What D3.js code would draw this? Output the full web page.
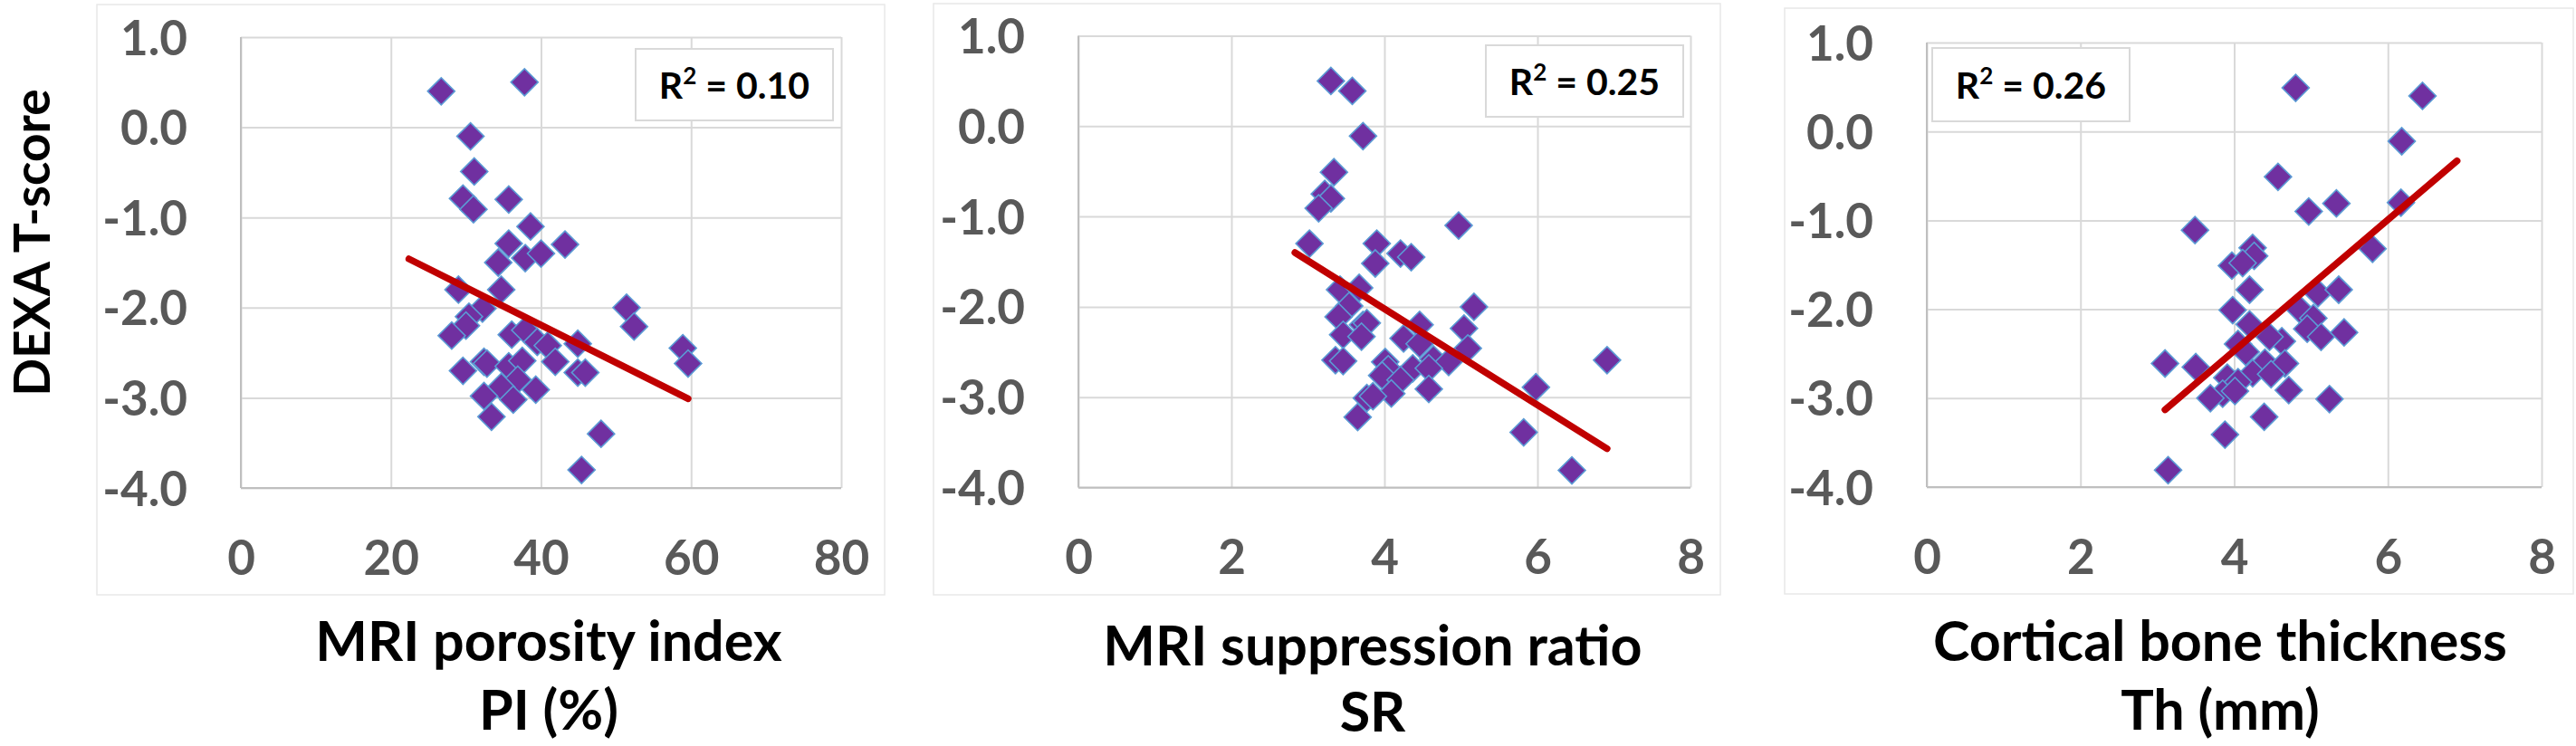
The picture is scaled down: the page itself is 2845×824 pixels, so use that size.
<!DOCTYPE html>
<html>
<head>
<meta charset="utf-8">
<script src="https://cdn.jsdelivr.net/npm/d3@7"></script>
<style>
  html, body { margin: 0; padding: 0; background: #ffffff; }
  svg { display: block; }
  text { font-family: Lato, "Open Sans", sans-serif; font-weight: 700; }
</style>
</head>
<body>
<svg id="chart" width="2845" height="824"></svg>
<script>
// ---------------- DATA ----------------
const yTicks = [1, 0, -1, -2, -3, -4];
const yTickLabels = ["1.0", "0.0", "-1.0", "-2.0", "-3.0", "-4.0"];

const piTicks = [0, 20, 40, 60, 80];
const piTickLabels = ["0", "20", "40", "60", "80"];
const mmTicks = [0, 2, 4, 6, 8];
const mmTickLabels = ["0", "2", "4", "6", "8"];

// Panel 1: MRI porosity index PI (%) vs DEXA T-score
const piX = [26.7, 37.8, 30.6, 31.1, 29.6, 31.0, 35.7, 38.6, 35.7, 43.2, 37.9, 40.0, 34.3, 29.0, 34.7,
             51.4, 32.2, 30.4, 30.0, 28.1, 52.4, 36.1, 37.9, 39.5, 40.9, 44.9, 58.9, 59.6, 29.6, 32.4,
             32.8, 35.7, 37.5, 41.9, 44.9, 45.9, 36.9, 34.7, 39.3, 32.4, 36.3, 33.4, 48.0, 45.4];
const piY = [0.40, 0.50, -0.10, -0.49, -0.79, -0.91, -0.80, -1.10, -1.29, -1.30, -1.45, -1.40, -1.50, -1.80, -1.80,
             -2.00, -2.01, -2.10, -2.20, -2.31, -2.21, -2.30, -2.25, -2.38, -2.42, -2.40, -2.45, -2.62, -2.70, -2.60,
             -2.62, -2.65, -2.59, -2.60, -2.72, -2.72, -2.80, -2.88, -2.91, -2.98, -3.02, -3.21, -3.40, -3.80];
const piTrendX = [22.4, 59.6];
const piTrendY = [-1.46, -3.01];
const piR2 = "0.10";

// Panel 2: MRI suppression ratio SR vs DEXA T-score
const srX = [3.30, 3.58, 3.72, 3.34, 3.22, 3.30, 3.14, 4.97, 3.02, 3.90, 3.88, 4.21, 4.35, 3.42, 3.67,
             3.54, 3.40, 3.72, 3.77, 3.46, 3.70, 5.17, 5.04, 4.46, 4.25, 4.46, 5.09, 4.64, 4.84, 3.36,
             3.46, 4.01, 4.05, 4.37, 4.58, 3.97, 4.21, 4.58, 3.77, 4.09, 3.85, 3.65, 5.98, 6.91, 5.82, 6.45];
const srY = [0.50, 0.39, -0.11, -0.51, -0.75, -0.80, -0.91, -1.10, -1.30, -1.30, -1.52, -1.41, -1.45, -1.81, -1.79,
             -1.99, -2.11, -2.20, -2.18, -2.31, -2.33, -2.00, -2.24, -2.20, -2.35, -2.41, -2.46, -2.58, -2.61, -2.59,
             -2.60, -2.61, -2.69, -2.68, -2.68, -2.76, -2.81, -2.91, -3.01, -2.96, -2.99, -3.22, -2.89, -2.59, -3.39, -3.81];
const srTrendX = [2.83, 6.91];
const srTrendY = [-1.40, -3.57];
const srR2 = "0.25";

// Panel 3: Cortical bone thickness Th (mm) vs DEXA T-score
const thX = [4.80, 6.45, 6.18, 4.57, 4.97, 5.33, 6.17, 3.49, 4.24, 4.26, 3.97, 4.11, 5.80, 4.20, 5.09,
             5.36, 3.98, 4.85, 5.03, 4.95, 5.13, 5.43, 4.20, 4.62, 4.46, 4.05, 4.15, 3.10, 3.50, 4.40,
             4.66, 4.24, 4.48, 3.91, 4.05, 3.85, 4.01, 3.69, 4.71, 5.24, 4.39, 3.88, 3.14];
const thY = [0.49, 0.40, -0.11, -0.51, -0.90, -0.81, -0.80, -1.11, -1.31, -1.40, -1.51, -1.48, -1.32, -1.78, -1.82,
             -1.78, -2.01, -2.00, -2.10, -2.22, -2.31, -2.26, -2.17, -2.36, -2.31, -2.39, -2.48, -2.61, -2.65, -2.60,
             -2.61, -2.72, -2.73, -2.77, -2.82, -2.95, -2.92, -3.00, -2.91, -3.01, -3.21, -3.41, -3.81];
const thTrendX = [3.10, 6.90];
const thTrendY = [-3.13, -0.33];
const thR2 = "0.26";

const yTitle = "DEXA T-score";

// ---------------- LAYOUT ----------------
const panels = [
  { xs: piX, ys: piY, tx: piTrendX, ty: piTrendY, r2: piR2,
    xTicks: piTicks, xLabels: piTickLabels, xDomain: [0, 80],
    title: ["MRI porosity index", "PI (%)"],
    frame: [107, 5, 977, 657], plot: [266, 41, 929, 539],
    box: [702, 54, 920, 133], titleX: 606, titleY: [730, 806] },
  { xs: srX, ys: srY, tx: srTrendX, ty: srTrendY, r2: srR2,
    xTicks: mmTicks, xLabels: mmTickLabels, xDomain: [0, 8],
    title: ["MRI suppression ratio", "SR"],
    frame: [1031, 4, 1900, 657], plot: [1191, 39.5, 1867, 538.5],
    box: [1641, 50, 1859, 129], titleX: 1516, titleY: [735, 808] },
  { xs: thX, ys: thY, tx: thTrendX, ty: thTrendY, r2: thR2,
    xTicks: mmTicks, xLabels: mmTickLabels, xDomain: [0, 8],
    title: ["Cortical bone thickness", "Th (mm)"],
    frame: [1971, 9, 2842, 656], plot: [2128, 47, 2807, 538],
    box: [2134, 53, 2352, 134], titleX: 2452, titleY: [730, 806] }
];

const svg = d3.select("#chart");
const tickColor = "#595959";
const gridColor = "#d9d9d9";

panels.forEach(p => {
  const [fx0, fy0, fx1, fy1] = p.frame;
  svg.append("rect")
    .attr("x", fx0).attr("y", fy0)
    .attr("width", fx1 - fx0).attr("height", fy1 - fy0)
    .attr("fill", "#ffffff").attr("stroke", "#e8e8e8").attr("stroke-width", 1.5);

  const [px0, py0, px1, py1] = p.plot;
  const x = d3.scaleLinear().domain(p.xDomain).range([px0, px1]);
  const y = d3.scaleLinear().domain([-4, 1]).range([py1, py0]);

  // Y axis with gridlines
  const gy = svg.append("g")
    .attr("transform", `translate(${px0},0)`)
    .call(d3.axisLeft(y).tickValues(yTicks)
      .tickFormat((d, i) => yTickLabels[i])
      .tickSize(-(px1 - px0)).tickPadding(59));
  gy.select(".domain").remove();
  gy.selectAll(".tick line").attr("stroke", gridColor).attr("stroke-width", 2);
  gy.selectAll(".tick text")
    .attr("fill", tickColor).attr("font-size", 53).attr("dy", "0.36em")
    .style("font-family", "Lato, sans-serif").style("font-weight", 700);

  // X axis with gridlines
  const gx = svg.append("g")
    .attr("transform", `translate(0,${py1})`)
    .call(d3.axisBottom(x).tickValues(p.xTicks)
      .tickFormat((d, i) => p.xLabels[i])
      .tickSize(-(py1 - py0)).tickPadding(58));
  gx.select(".domain").remove();
  gx.selectAll(".tick line").attr("stroke", gridColor).attr("stroke-width", 2);
  gx.selectAll(".tick text")
    .attr("fill", tickColor).attr("font-size", 53).attr("dy", "0.71em")
    .style("font-family", "Lato, sans-serif").style("font-weight", 700);

  // darker axis lines (left & bottom)
  svg.append("line").attr("x1", px0).attr("x2", px0).attr("y1", py0).attr("y2", py1)
    .attr("stroke", "#bfbfbf").attr("stroke-width", 2);
  svg.append("line").attr("x1", px0).attr("x2", px1).attr("y1", py1).attr("y2", py1)
    .attr("stroke", "#bfbfbf").attr("stroke-width", 2);

  // R² box
  const [bx0, by0, bx1, by1] = p.box;
  svg.append("rect").attr("x", bx0).attr("y", by0)
    .attr("width", bx1 - bx0).attr("height", by1 - by0)
    .attr("fill", "#ffffff").attr("stroke", gridColor).attr("stroke-width", 2);
  const rt = svg.append("text")
    .attr("x", (bx0 + bx1) / 2).attr("y", (by0 + by1) / 2 + 15)
    .attr("text-anchor", "middle").attr("font-size", 41).attr("fill", "#000");
  rt.append("tspan").text("R");
  rt.append("tspan").attr("font-size", 26).attr("dy", -16).text("2");
  rt.append("tspan").attr("dy", 16).text(" = " + p.r2);

  // points
  const pts = p.xs.map((v, i) => [v, p.ys[i]]);
  const sym = d3.symbol().type(d3.symbolSquare).size(450);
  svg.append("g").selectAll("path").data(pts).join("path")
    .attr("d", sym)
    .attr("transform", d => `translate(${x(d[0])},${y(d[1])}) rotate(45)`)
    .attr("fill", "#7030a0")
    .attr("stroke", "#5b9bd5").attr("stroke-width", 1.6);

  // trendline
  const tpts = p.tx.map((v, i) => [v, p.ty[i]]);
  svg.append("path").datum(tpts)
    .attr("d", d3.line().x(d => x(d[0])).y(d => y(d[1])))
    .attr("fill", "none").attr("stroke", "#c00000")
    .attr("stroke-width", 7.5).attr("stroke-linecap", "round");

  // x title
  p.title.forEach((t, i) => {
    svg.append("text").attr("x", p.titleX).attr("y", p.titleY[i])
      .attr("text-anchor", "middle").attr("font-size", 61).attr("fill", "#000").text(t);
  });
});

// Y title
svg.append("text")
  .attr("transform", "translate(55,268) rotate(-90)")
  .attr("text-anchor", "middle").attr("font-size", 55).attr("fill", "#000")
  .text(yTitle);
</script>
</body>
</html>
